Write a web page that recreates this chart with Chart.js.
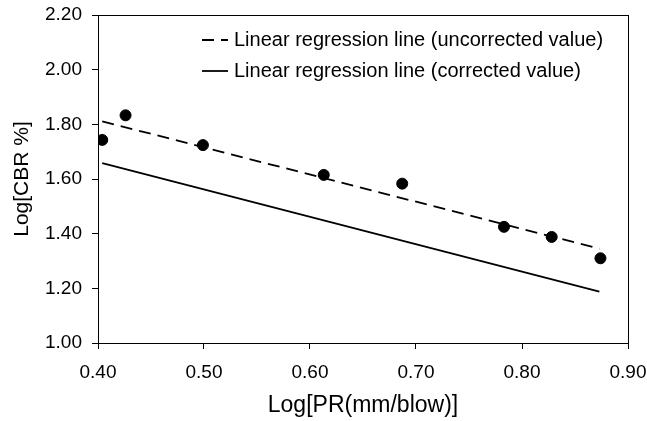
<!DOCTYPE html>
<html lang="en">
<head>
  <meta charset="UTF-8" />
  <title>Log CBR vs Log PR</title>
  <script src="https://cdn.jsdelivr.net/npm/chart.js"></script>
  <style>
    html, body { margin: 0; padding: 0; background: #fff; }
    #wrap { width: 647px; height: 421px; }
  </style>
</head>
<body>
  <div id="wrap"><canvas id="cbrChart" width="647" height="421"></canvas></div>
  <script>
    // measured points
    const logPR = [0.404, 0.426, 0.499, 0.613, 0.687, 0.783, 0.828, 0.874];
    const logCBR = [1.743, 1.833, 1.724, 1.615, 1.583, 1.425, 1.388, 1.310];

    // regression line ends
    const lineX = [0.404, 0.873];
    const uncorrectedY = [1.811, 1.345];
    const correctedY = [1.658, 1.188];

    const xTicks = [0.40, 0.50, 0.60, 0.70, 0.80, 0.90];
    const yTicks = [1.00, 1.20, 1.40, 1.60, 1.80, 2.00, 2.20];

    const FONT = "'Liberation Sans', Arial, sans-serif";
    const toPts = (xs, ys) => xs.map((x, i) => ({ x: x, y: ys[i] }));

    // frame round the plot area + legend inside it
    const framePlugin = {
      id: "frame",
      afterDraw(chart) {
        const { ctx, chartArea: a } = chart;
        ctx.save();
        ctx.strokeStyle = "#000";
        ctx.lineWidth = 1;
        ctx.strokeRect(a.left + 0.5, a.top + 0.5, a.right - a.left, a.bottom - a.top);

        // legend
        const rows = chart.data.datasets.filter(d => d.showLine);
        ctx.font = "20px " + FONT;
        ctx.fillStyle = "#000";
        ctx.textBaseline = "middle";
        rows.forEach((d, i) => {
          const y = a.top + 25 + i * 31;
          const x0 = a.left + 104;
          ctx.beginPath();
          ctx.lineWidth = d.borderWidth;
          ctx.strokeStyle = d.borderColor;
          ctx.setLineDash(d.borderDash || []);
          ctx.moveTo(x0, y);
          ctx.lineTo(x0 + 26, y);
          ctx.stroke();
          ctx.setLineDash([]);
          ctx.fillText(d.label, x0 + 32, y);
        });
        ctx.restore();
      }
    };

    new Chart(document.getElementById("cbrChart"), {
      type: "scatter",
      data: {
        datasets: [
          {
            label: "Linear regression line (uncorrected value)",
            data: toPts(lineX, uncorrectedY),
            showLine: true,
            borderColor: "#000",
            borderWidth: 1.8,
            borderDash: [12, 7],
            pointRadius: 0
          },
          {
            label: "Linear regression line (corrected value)",
            data: toPts(lineX, correctedY),
            showLine: true,
            borderColor: "#000",
            borderWidth: 1.8,
            pointRadius: 0
          },
          {
            label: "Measured",
            data: toPts(logPR, logCBR),
            showLine: false,
            pointRadius: 5.5,
            pointBackgroundColor: "#000",
            pointBorderColor: "#000"
          }
        ]
      },
      options: {
        responsive: false,
        animation: false,
        layout: { padding: { top: 15, right: 19, left: 0, bottom: 0 } },
        plugins: { legend: { display: false }, tooltip: { enabled: false } },
        scales: {
          x: {
            type: "linear",
            min: 0.4, max: 0.9,
            afterBuildTicks: s => { s.ticks = xTicks.map(v => ({ value: v })); },
            afterFit: s => { s.height = 78; s.paddingLeft = 0; s.paddingRight = 0; },
            grid: { drawOnChartArea: false, tickLength: 6, color: "#000" },
            border: { color: "#000", width: 1 },
            ticks: {
              color: "#000",
              font: { family: FONT, size: 19 },
              padding: 12,
              maxRotation: 0,
              callback: v => v.toFixed(2)
            },
            title: {
              display: true,
              text: "Log[PR(mm/blow)]",
              color: "#000",
              font: { family: FONT, size: 23 },
              padding: { top: 4, bottom: 2 }
            }
          },
          y: {
            min: 1.0, max: 2.2,
            afterBuildTicks: s => { s.ticks = yTicks.map(v => ({ value: v })); },
            afterFit: s => { s.width = 98; s.paddingTop = 0; s.paddingBottom = 0; },
            grid: { drawOnChartArea: false, tickLength: 6, color: "#000" },
            border: { color: "#000", width: 1 },
            ticks: {
              color: "#000",
              font: { family: FONT, size: 19 },
              padding: 10,
              callback: v => v.toFixed(2)
            },
            title: {
              display: true,
              text: "Log[CBR %]",
              color: "#000",
              font: { family: FONT, size: 21 },
              padding: { top: 10, bottom: 0 }
            }
          }
        }
      },
      plugins: [framePlugin]
    });
  </script>
</body>
</html>
